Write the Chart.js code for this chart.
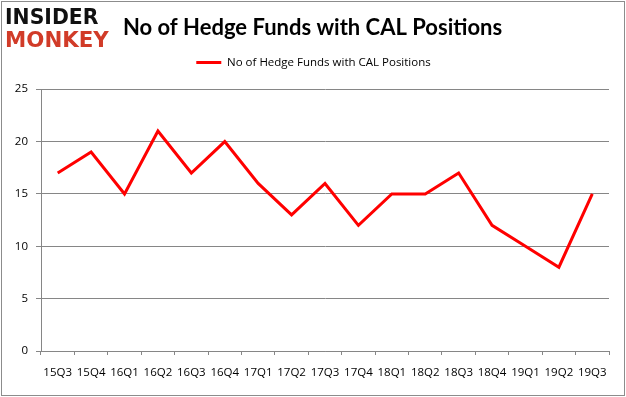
<!DOCTYPE html>
<html><head><meta charset="utf-8">
<script src="https://cdn.jsdelivr.net/npm/chart.js@4"></script>
<style>
html,body{margin:0;padding:0;background:#fff;}
#wrap{position:relative;width:626px;height:397px;background:#fff;overflow:hidden;}
canvas{position:absolute;left:0;top:0;}
#frame{position:absolute;left:1px;top:1px;width:624px;height:395px;box-sizing:border-box;border:1px solid #8c8c8c;pointer-events:none;}
.logo{position:absolute;left:5px;font-family:"DejaVu Sans";font-weight:bold;font-size:21px;line-height:21px;transform-origin:left top;white-space:nowrap;}
</style></head>
<body>
<div id="wrap">
<canvas id="c" width="626" height="397"></canvas>
<div class="logo" style="top:7px;color:#111;transform:scaleX(0.97);">INSIDER</div>
<div class="logo" style="top:29px;color:#d13b28;font-size:22px;transform:scaleX(0.97);">MONKEY</div>
<div id="frame"></div>
</div>
<script>
const categories = ["15Q3","15Q4","16Q1","16Q2","16Q3","16Q4","17Q1","17Q2","17Q3","17Q4","18Q1","18Q2","18Q3","18Q4","19Q1","19Q2","19Q3"];
const hedgeFunds = [17,19,15,21,17,20,16,13,16,12,15,15,17,12,10,8,15];
const yTicks = [0,5,10,15,20,25];
const seriesName = "No of Hedge Funds with CAL Positions";
const titleText = "No of Hedge Funds with CAL Positions";

const layoutTweak = {
  id: 'layoutTweak',
  beforeLayout(chart) {
    const lg = chart.legend;
    if (lg && !lg._patched) {
      const orig = lg.fit.bind(lg);
      lg.fit = function () { orig(); this.height += 11; };
      lg._patched = true;
    }
  },
  afterLayout(chart) {
    const t = chart.titleBlock;
    if (t) { t.left += 5; t.right += 5; }
    const lg = chart.legend;
    if (lg) { lg.left += 6; lg.right += 6; }
  }
};

new Chart(document.getElementById('c'), {
  type: 'line',
  data: {
    labels: categories,
    datasets: [{
      label: seriesName,
      data: hedgeFunds,
      borderColor: '#ff0000',
      backgroundColor: '#ff0000',
      borderWidth: 3,
      pointRadius: 0,
      tension: 0
    }]
  },
  plugins: [layoutTweak],
  options: {
    responsive: false,
    animation: false,
    layout: { padding: { left: 6, right: 17, top: 10, bottom: 0 } },
    plugins: {
      title: {
        display: true, text: titleText, color: '#000',
        font: { family: 'Lato', size: 22, weight: 'bold', lineHeight: 0.7 },
        padding: { top: 10.3, bottom: 0 }
      },
      legend: {
        display: true, position: 'top',
        labels: {
          color: '#000', font: { family: 'Open Sans', size: 11.5 },
          boxWidth: 25, boxHeight: 3, padding: 21,
          generateLabels: chart => Chart.defaults.plugins.legend.labels.generateLabels(chart).map(l => ({ ...l, lineWidth: 0 }))
        }
      },
      tooltip: { enabled: false }
    },
    scales: {
      x: {
        offset: true,
        grid: { offset: true, drawOnChartArea: false, color: '#868686', tickLength: 4, tickColor: '#868686' },
        border: { color: '#868686' },
        ticks: { color: '#000', font: { family: 'Open Sans', size: 11.5 }, maxRotation: 0, autoSkip: false, padding: 11 },
        afterFit: s => { s.height = 46; }
      },
      y: {
        min: 0, max: 25,
        afterBuildTicks: s => { s.ticks = yTicks.map(v => ({ value: v })); },
        grid: { color: '#868686', tickLength: 5 },
        border: { color: '#868686' },
        ticks: { color: '#000', font: { family: 'Open Sans', size: 11.5 }, padding: 8 },
        afterFit: s => { s.width = 35; }
      }
    }
  }
});
</script>
</body></html>
